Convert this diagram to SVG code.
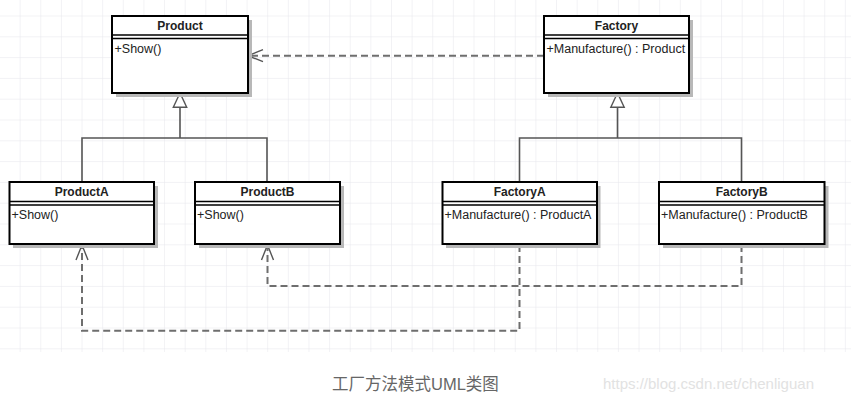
<svg xmlns="http://www.w3.org/2000/svg" width="851" height="404" viewBox="0 0 851 404">
<style>
.box{fill:#fff;stroke:#000;stroke-width:2}
.shadow{fill:#b8b8b8}
.sep{stroke:#000;stroke-width:1.3}
.title{font-family:"Liberation Sans",Arial,sans-serif;font-size:12px;font-weight:bold;fill:#222;text-anchor:middle}
.member{font-family:"Liberation Sans",Arial,sans-serif;font-size:12.5px;fill:#222}
.inh{fill:none;stroke:#555;stroke-width:1.6}
.dep{fill:none;stroke:#6e6e6e;stroke-width:2;stroke-dasharray:7 4}
.head{fill:none;stroke:#555;stroke-width:1.4}
</style>
<defs>
<pattern id="grid" x="0" y="-4.3" width="20.63" height="20.8" patternUnits="userSpaceOnUse">
<path d="M20.63 0V20.8M0 20.8H20.63" fill="none" stroke="#e6e6ec" stroke-width="1"/>
</pattern>
</defs>
<rect width="851" height="404" fill="#fff"/>
<rect width="851" height="352" fill="url(#grid)"/>

<g id="connectors">
<path class="inh" d="M180 107V138M82 182V138H267V182"/>
<path d="M180 93L173.3 107.3H186.7Z" fill="#fff" stroke="#555" stroke-width="1.4"/>
<path class="inh" d="M617.5 107V138M519.5 182V138H741.5V182"/>
<path d="M617.5 93L610.8 107.3H624.2Z" fill="#fff" stroke="#555" stroke-width="1.4"/>
<path class="dep" d="M544 55.7H250"/>
<path class="head" d="M263 49.7L248 55.7L263 61.7"/>
<path class="dep" d="M519.5 245V330.7H82V247"/>
<path class="head" d="M76 260L82 245L88 260"/>
<path class="dep" d="M741.5 245V286H267.5V247"/>
<path class="head" d="M261.5 260L267.5 245L273.5 260"/>
</g>

<g id="Product">
<rect class="shadow" x="116" y="20" width="136" height="77"/>
<rect class="box" x="112" y="16" width="136" height="77"/>
<line class="sep" x1="112" y1="35" x2="248" y2="35"/>
<line class="sep" x1="112" y1="38.5" x2="248" y2="38.5"/>
<text class="title" x="180" y="30">Product</text>
<text class="member" x="114.5" y="52.5">+Show()</text>
</g>

<g id="Factory">
<rect class="shadow" x="548" y="20" width="145" height="77"/>
<rect class="box" x="544" y="16" width="145" height="77"/>
<line class="sep" x1="544" y1="35" x2="689" y2="35"/>
<line class="sep" x1="544" y1="38.5" x2="689" y2="38.5"/>
<text class="title" x="616.5" y="30">Factory</text>
<text class="member" x="546.5" y="52.5">+Manufacture() : Product</text>
</g>

<g id="ProductA">
<rect class="shadow" x="13" y="186" width="145" height="62"/>
<rect class="box" x="9.5" y="182" width="144.5" height="62"/>
<line class="sep" x1="9.5" y1="201.5" x2="154" y2="201.5"/>
<line class="sep" x1="9.5" y1="205" x2="154" y2="205"/>
<text class="title" x="81.7" y="196">ProductA</text>
<text class="member" x="11.5" y="218.5">+Show()</text>
</g>

<g id="ProductB">
<rect class="shadow" x="199" y="186" width="145" height="62"/>
<rect class="box" x="195" y="182" width="145" height="62"/>
<line class="sep" x1="195" y1="201.5" x2="340" y2="201.5"/>
<line class="sep" x1="195" y1="205" x2="340" y2="205"/>
<text class="title" x="267.5" y="196">ProductB</text>
<text class="member" x="197" y="218.5">+Show()</text>
</g>

<g id="FactoryA">
<rect class="shadow" x="446" y="186" width="154.5" height="62"/>
<rect class="box" x="442.5" y="182" width="154.5" height="62"/>
<line class="sep" x1="442.5" y1="201.5" x2="597" y2="201.5"/>
<line class="sep" x1="442.5" y1="205" x2="597" y2="205"/>
<text class="title" x="519.7" y="196">FactoryA</text>
<text class="member" x="444.5" y="218.5">+Manufacture() : ProductA</text>
</g>

<g id="FactoryB">
<rect class="shadow" x="663" y="186" width="165.5" height="62"/>
<rect class="box" x="659" y="182" width="165.5" height="62"/>
<line class="sep" x1="659" y1="201.5" x2="824.5" y2="201.5"/>
<line class="sep" x1="659" y1="205" x2="824.5" y2="205"/>
<text class="title" x="741.7" y="196">FactoryB</text>
<text class="member" x="661" y="218.5">+Manufacture() : ProductB</text>
</g>

<text x="332" y="390" font-family="'Liberation Sans','Noto Sans CJK SC',sans-serif" font-size="16.5" fill="#666">工厂方法模式UML类图</text>
<text x="603" y="389" font-family="'Liberation Sans',Arial,sans-serif" font-size="15" fill="#e2e2e2">https://blog.csdn.net/chenliguan</text>
</svg>
